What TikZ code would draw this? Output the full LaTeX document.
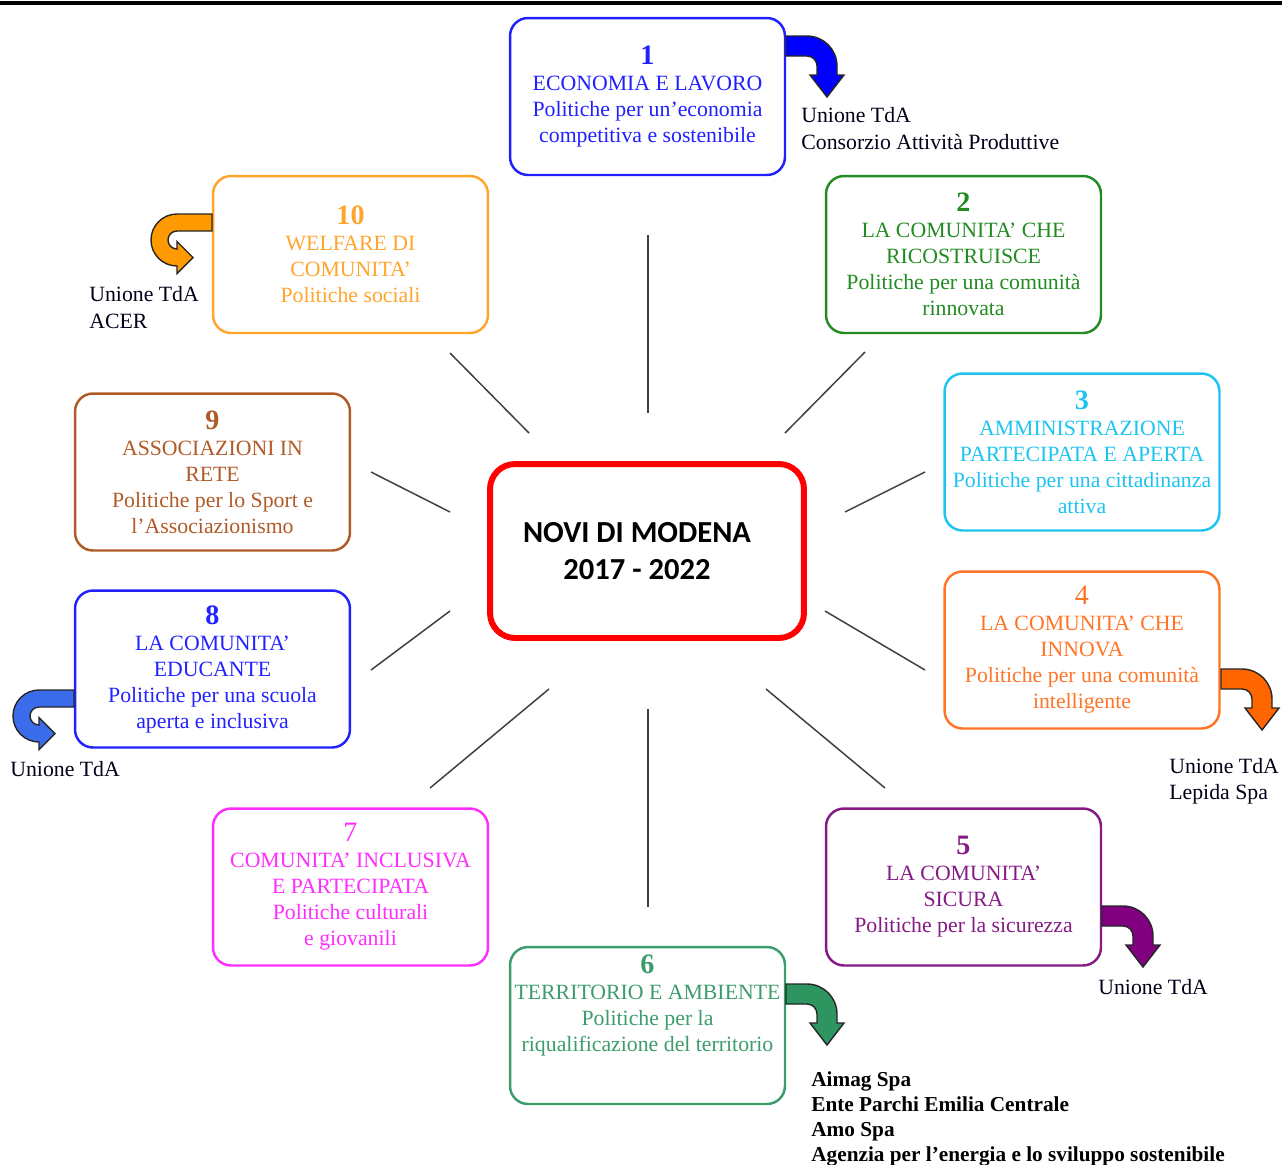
\documentclass[tikz,border=0pt]{standalone}
\usepackage{fontspec}
\setmainfont{Liberation Serif}
\newfontfamily\calibri{Carlito}
\newcommand\boxnum[1]{{\fontsize{16}{14.8}\selectfont\bfseries #1}}
\newcommand\boxnumlight[1]{{\fontsize{16}{14.8}\selectfont #1}}
\definecolor{cone}{HTML}{2020FF}
\definecolor{ctwo}{HTML}{228B22}
\definecolor{cthree}{HTML}{1EC4F0}
\definecolor{cfour}{HTML}{FF7426}
\definecolor{cfive}{HTML}{851A85}
\definecolor{csix}{HTML}{3C9C6C}
\definecolor{cseven}{HTML}{FF2EFF}
\definecolor{ceight}{HTML}{2222FF}
\definecolor{cnine}{HTML}{B05A28}
\definecolor{cten}{HTML}{FFA52E}
\definecolor{aone}{HTML}{0000FF}
\definecolor{afour}{HTML}{FF6600}
\definecolor{afive}{HTML}{800080}
\definecolor{asix}{HTML}{2E9460}
\definecolor{aeight}{HTML}{3A6CEC}
\definecolor{aten}{HTML}{FF9900}
\begin{document}
\begin{tikzpicture}[x=0.02cm,y=-0.02cm,
  box/.style={draw=#1,text=#1,rounded corners=0.36cm,line width=1.4pt,
    minimum width=5.5cm,minimum height=3.14cm,align=center,inner sep=0pt,
    font=\fontsize{12.4}{14.8}\selectfont},
  spoke/.style={draw=black!75,line width=0.85pt},
  label/.style={anchor=west,align=left,inner sep=0pt,text=black!90!blue,
    font=\fontsize{12.4}{15}\selectfont},
  bentright/.pic={\filldraw[fill=#1,draw=black!85,line width=0.8pt]
    (0,0) -- (21,0) arc[start angle=-90,end angle=0,radius=30] -- (51,39)
    -- (58,39) -- (41,61) -- (24,39) -- (31,39) -- (31,30)
    arc[start angle=0,end angle=-90,radius=10] -- (0,20) -- cycle;},
  curlleft/.pic={\filldraw[fill=#1,draw=black!85,line width=0.8pt]
    (0,0) -- (-35,0) arc[start angle=-90,end angle=-270,radius=26] -- (-35,59.5)
    -- (-19,43.5) -- (-35,27.5) -- (-35,35)
    arc[start angle=90,end angle=270,radius=9] -- (0,17) -- cycle;}]
\useasboundingbox (0,0) rectangle (1282,1164);
\draw[line width=2pt] (0,3) -- (1282,3);

\foreach [count=\i] \a/\b/\c/\d in {648/235/648/413, 865/352/785/433,
    925/472/845/512, 825/611/925/670, 766/689/885/788, 648/709/648/907,
    549/689/430/788, 450/611/371/670, 371/472/450/512, 450/353/529/433}{
  \coordinate (s\i a) at (\a,\b);
  \coordinate (s\i b) at (\c,\d);
  \draw[spoke] (s\i a) -- (s\i b);
}

\node[draw=red,line width=3.4pt,rounded corners=0.5cm,minimum width=6.28cm,
  minimum height=3.48cm,align=center,
  font=\calibri\bfseries\fontsize{17.4}{21}\selectfont] (centre) at (647,551)
  {NOVI DI MODENA\hspace*{0.4cm}\\2017 - 2022\hspace*{0.4cm}};

\node[box=cone] (b1) at (647.5,96.5) {\boxnum{1}\\ECONOMIA E LAVORO\\Politiche per un’economia\\competitiva e sostenibile};
\node[box=ctwo] (b2) at (963.5,254.5) {\boxnum{2}\\LA COMUNITA’ CHE\\RICOSTRUISCE\\Politiche per una comunità\\rinnovata};
\node[box=cthree] (b3) at (1082,452) {\boxnum{3}\\AMMINISTRAZIONE\\PARTECIPATA E APERTA\\Politiche per una cittadinanza\\attiva};
\node[box=cfour] (b4) at (1082,650) {\boxnumlight{4}\\LA COMUNITA’ CHE\\INNOVA\\Politiche per una comunità\\intelligente};
\node[box=cfive] (b5) at (963.5,887) {\boxnum{5}\\LA COMUNITA’\\SICURA\\Politiche per la sicurezza};
\node[box=csix] (b6) at (647.5,1025.5) {\boxnum{6}\\TERRITORIO E AMBIENTE\\Politiche per la\\riqualificazione del territorio\\[6pt]\strut};
\node[box=cseven] (b7) at (350.5,887) {\boxnumlight{7}\\COMUNITA’ INCLUSIVA\\E PARTECIPATA\\Politiche culturali\\e giovanili};
\node[box=ceight] (b8) at (212.5,669) {\boxnum{8}\\LA COMUNITA’\\EDUCANTE\\Politiche per una scuola\\aperta e inclusiva};
\node[box=cnine] (b9) at (212.5,472) {\boxnum{9}\\ASSOCIAZIONI IN\\RETE\\Politiche per lo Sport e\\l’Associazionismo};
\node[box=cten] (b10) at (350.5,254.5) {\boxnum{10}\\WELFARE DI\\COMUNITA’\\Politiche sociali};

\pic at (786,36) {bentright=aone};
\pic at (1221,669) {bentright=afour};
\pic at (1102,906) {bentright=afive};
\pic at (786,984) {bentright=asix};
\pic at (74,690) {curlleft=aeight};
\pic at (212,214) {curlleft=aten};

\node[label] (l1) at (801,128.5) {Unione TdA\\Consorzio Attività Produttive};
\node[label] (l10) at (89,307.5) {Unione TdA\\ACER};
\node[label] (l8) at (10,769) {Unione TdA};
\node[label] (l4) at (1169,781.5) {Unione TdA\\Lepida Spa};
\node[label] (l5) at (1098,987) {Unione TdA};
\node[label,text=black,font=\fontsize{12.1}{14.2}\selectfont\bfseries] (l6) at (811,1119)
  {Aimag Spa\\Ente Parchi Emilia Centrale\\Amo Spa\\Agenzia per l’energia e lo sviluppo sostenibile};
\end{tikzpicture}
\end{document}
